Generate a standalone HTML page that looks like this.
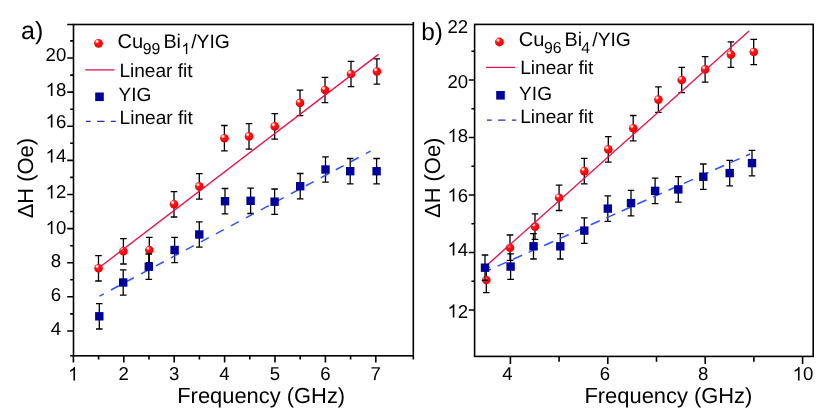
<!DOCTYPE html>
<html><head><meta charset="utf-8"><title>Linewidth vs frequency</title>
<style>
html,body{margin:0;padding:0;background:#fff;}
body{width:830px;height:420px;overflow:hidden;font-family:"Liberation Sans",sans-serif;}
svg{display:block;text-rendering:geometricPrecision;will-change:transform;}
</style></head><body>
<svg width="830" height="420" viewBox="0 0 830 420" font-family="Liberation Sans, sans-serif" fill="#000">
<defs><radialGradient id="ball" cx="0.36" cy="0.32" r="0.62" fx="0.33" fy="0.28"><stop offset="0" stop-color="#ffffff"/><stop offset="0.16" stop-color="#ffd0d0"/><stop offset="0.38" stop-color="#ff1a1a"/><stop offset="1" stop-color="#f00000"/></radialGradient></defs>
<rect width="830" height="420" fill="#fff"/>
<path d="M98.5 255.6V281.0M95.2 255.6h6.6M95.2 281.0h6.6" stroke="#000" stroke-width="1.3" fill="none"/>
<path d="M123.4 238.6V264.0M120.1 238.6h6.6M120.1 264.0h6.6" stroke="#000" stroke-width="1.3" fill="none"/>
<path d="M149.3 237.3V262.7M146.0 237.3h6.6M146.0 262.7h6.6" stroke="#000" stroke-width="1.3" fill="none"/>
<path d="M174.0 191.6V217.0M170.7 191.6h6.6M170.7 217.0h6.6" stroke="#000" stroke-width="1.3" fill="none"/>
<path d="M199.3 173.7V199.1M196.0 173.7h6.6M196.0 199.1h6.6" stroke="#000" stroke-width="1.3" fill="none"/>
<path d="M224.4 125.5V150.9M221.1 125.5h6.6M221.1 150.9h6.6" stroke="#000" stroke-width="1.3" fill="none"/>
<path d="M249.0 123.7V149.1M245.7 123.7h6.6M245.7 149.1h6.6" stroke="#000" stroke-width="1.3" fill="none"/>
<path d="M274.7 113.7V139.1M271.4 113.7h6.6M271.4 139.1h6.6" stroke="#000" stroke-width="1.3" fill="none"/>
<path d="M300.0 90.2V115.6M296.7 90.2h6.6M296.7 115.6h6.6" stroke="#000" stroke-width="1.3" fill="none"/>
<path d="M325.0 77.3V102.7M321.7 77.3h6.6M321.7 102.7h6.6" stroke="#000" stroke-width="1.3" fill="none"/>
<path d="M351.0 61.3V86.7M347.7 61.3h6.6M347.7 86.7h6.6" stroke="#000" stroke-width="1.3" fill="none"/>
<path d="M376.9 58.8V84.2M373.6 58.8h6.6M373.6 84.2h6.6" stroke="#000" stroke-width="1.3" fill="none"/>
<circle cx="98.5" cy="268.3" r="4.3" fill="url(#ball)"/>
<circle cx="123.4" cy="251.3" r="4.3" fill="url(#ball)"/>
<circle cx="149.3" cy="250.0" r="4.3" fill="url(#ball)"/>
<circle cx="174.0" cy="204.3" r="4.3" fill="url(#ball)"/>
<circle cx="199.3" cy="186.4" r="4.3" fill="url(#ball)"/>
<circle cx="224.4" cy="138.2" r="4.3" fill="url(#ball)"/>
<circle cx="249.0" cy="136.4" r="4.3" fill="url(#ball)"/>
<circle cx="274.7" cy="126.4" r="4.3" fill="url(#ball)"/>
<circle cx="300.0" cy="102.9" r="4.3" fill="url(#ball)"/>
<circle cx="325.0" cy="90.0" r="4.3" fill="url(#ball)"/>
<circle cx="351.0" cy="74.0" r="4.3" fill="url(#ball)"/>
<circle cx="376.9" cy="71.5" r="4.3" fill="url(#ball)"/>
<path d="M98.3 268.3L378.5 54.4" stroke="#e3174d" stroke-width="1.4" fill="none"/>
<path d="M99.3 303.6V329.0M96.0 303.6h6.6M96.0 329.0h6.6" stroke="#000" stroke-width="1.3" fill="none"/>
<path d="M123.2 269.8V295.2M119.9 269.8h6.6M119.9 295.2h6.6" stroke="#000" stroke-width="1.3" fill="none"/>
<path d="M148.8 254.0V279.4M145.5 254.0h6.6M145.5 279.4h6.6" stroke="#000" stroke-width="1.3" fill="none"/>
<path d="M174.6 237.3V262.7M171.3 237.3h6.6M171.3 262.7h6.6" stroke="#000" stroke-width="1.3" fill="none"/>
<path d="M199.3 221.8V247.2M196.0 221.8h6.6M196.0 247.2h6.6" stroke="#000" stroke-width="1.3" fill="none"/>
<path d="M225.0 188.5V213.9M221.7 188.5h6.6M221.7 213.9h6.6" stroke="#000" stroke-width="1.3" fill="none"/>
<path d="M250.6 188.1V213.5M247.3 188.1h6.6M247.3 213.5h6.6" stroke="#000" stroke-width="1.3" fill="none"/>
<path d="M274.6 189.0V214.4M271.3 189.0h6.6M271.3 214.4h6.6" stroke="#000" stroke-width="1.3" fill="none"/>
<path d="M300.2 173.5V198.9M296.9 173.5h6.6M296.9 198.9h6.6" stroke="#000" stroke-width="1.3" fill="none"/>
<path d="M325.5 156.8V182.2M322.2 156.8h6.6M322.2 182.2h6.6" stroke="#000" stroke-width="1.3" fill="none"/>
<path d="M350.2 158.5V183.9M346.9 158.5h6.6M346.9 183.9h6.6" stroke="#000" stroke-width="1.3" fill="none"/>
<path d="M376.6 158.5V183.9M373.3 158.5h6.6M373.3 183.9h6.6" stroke="#000" stroke-width="1.3" fill="none"/>
<path d="M99.5 296.1L370.5 151.2" stroke="#2f52ff" stroke-width="1.5" stroke-dasharray="8.9 8.1" stroke-dashoffset="4.0" fill="none"/>
<rect x="95.1" y="312.1" width="8.4" height="8.4" fill="#00009b"/>
<rect x="119.0" y="278.3" width="8.4" height="8.4" fill="#00009b"/>
<rect x="144.6" y="262.5" width="8.4" height="8.4" fill="#00009b"/>
<rect x="170.4" y="245.8" width="8.4" height="8.4" fill="#00009b"/>
<rect x="195.1" y="230.3" width="8.4" height="8.4" fill="#00009b"/>
<rect x="220.8" y="197.0" width="8.4" height="8.4" fill="#00009b"/>
<rect x="246.4" y="196.6" width="8.4" height="8.4" fill="#00009b"/>
<rect x="270.4" y="197.5" width="8.4" height="8.4" fill="#00009b"/>
<rect x="296.0" y="182.0" width="8.4" height="8.4" fill="#00009b"/>
<rect x="321.3" y="165.3" width="8.4" height="8.4" fill="#00009b"/>
<rect x="346.0" y="167.0" width="8.4" height="8.4" fill="#00009b"/>
<rect x="372.4" y="167.0" width="8.4" height="8.4" fill="#00009b"/>
<rect x="73.5" y="24.5" width="339.8" height="331.3" fill="none" stroke="#000" stroke-width="1.6"/>
<path d="M73.4 355.8v6.8M123.8 355.8v6.8M174.2 355.8v6.8M224.6 355.8v6.8M275.0 355.8v6.8M325.4 355.8v6.8M375.8 355.8v6.8M98.6 355.8v3.8M149.0 355.8v3.8M199.4 355.8v3.8M249.8 355.8v3.8M300.2 355.8v3.8M350.6 355.8v3.8M73.5 331.0h-6.3M73.5 296.8h-6.3M73.5 262.7h-6.3M73.5 228.6h-6.3M73.5 194.5h-6.3M73.5 160.4h-6.3M73.5 126.2h-6.3M73.5 92.1h-6.3M73.5 58.0h-6.3M73.5 313.9h-3.3M73.5 279.8h-3.3M73.5 245.7h-3.3M73.5 211.5h-3.3M73.5 177.4h-3.3M73.5 143.3h-3.3M73.5 109.2h-3.3M73.5 75.1h-3.3M73.5 40.9h-3.3" stroke="#000" stroke-width="1.6" fill="none"/>
<path d="M486.3 267.3V292.7M483.0 267.3h6.6M483.0 292.7h6.6" stroke="#000" stroke-width="1.3" fill="none"/>
<path d="M510.0 235.0V260.4M506.7 235.0h6.6M506.7 260.4h6.6" stroke="#000" stroke-width="1.3" fill="none"/>
<path d="M535.0 213.9V239.3M531.7 213.9h6.6M531.7 239.3h6.6" stroke="#000" stroke-width="1.3" fill="none"/>
<path d="M559.1 185.1V210.5M555.8 185.1h6.6M555.8 210.5h6.6" stroke="#000" stroke-width="1.3" fill="none"/>
<path d="M584.3 158.4V183.8M581.0 158.4h6.6M581.0 183.8h6.6" stroke="#000" stroke-width="1.3" fill="none"/>
<path d="M608.3 136.7V162.1M605.0 136.7h6.6M605.0 162.1h6.6" stroke="#000" stroke-width="1.3" fill="none"/>
<path d="M633.2 115.5V140.9M629.9 115.5h6.6M629.9 140.9h6.6" stroke="#000" stroke-width="1.3" fill="none"/>
<path d="M658.4 86.9V112.3M655.1 86.9h6.6M655.1 112.3h6.6" stroke="#000" stroke-width="1.3" fill="none"/>
<path d="M681.7 67.3V92.7M678.4 67.3h6.6M678.4 92.7h6.6" stroke="#000" stroke-width="1.3" fill="none"/>
<path d="M705.1 56.7V82.1M701.8 56.7h6.6M701.8 82.1h6.6" stroke="#000" stroke-width="1.3" fill="none"/>
<path d="M730.9 41.9V67.3M727.6 41.9h6.6M727.6 67.3h6.6" stroke="#000" stroke-width="1.3" fill="none"/>
<path d="M753.7 39.3V64.7M750.4 39.3h6.6M750.4 64.7h6.6" stroke="#000" stroke-width="1.3" fill="none"/>
<circle cx="486.3" cy="280.0" r="4.3" fill="url(#ball)"/>
<circle cx="510.0" cy="247.7" r="4.3" fill="url(#ball)"/>
<circle cx="535.0" cy="226.6" r="4.3" fill="url(#ball)"/>
<circle cx="559.1" cy="197.8" r="4.3" fill="url(#ball)"/>
<circle cx="584.3" cy="171.1" r="4.3" fill="url(#ball)"/>
<circle cx="608.3" cy="149.4" r="4.3" fill="url(#ball)"/>
<circle cx="633.2" cy="128.2" r="4.3" fill="url(#ball)"/>
<circle cx="658.4" cy="99.6" r="4.3" fill="url(#ball)"/>
<circle cx="681.7" cy="80.0" r="4.3" fill="url(#ball)"/>
<circle cx="705.1" cy="69.4" r="4.3" fill="url(#ball)"/>
<circle cx="730.9" cy="54.6" r="4.3" fill="url(#ball)"/>
<circle cx="753.7" cy="52.0" r="4.3" fill="url(#ball)"/>
<path d="M486.0 266.0L749.1 30.9" stroke="#e3174d" stroke-width="1.4" fill="none"/>
<path d="M485.0 255.0V280.4M481.7 255.0h6.6M481.7 280.4h6.6" stroke="#000" stroke-width="1.3" fill="none"/>
<path d="M510.6 253.9V279.3M507.3 253.9h6.6M507.3 279.3h6.6" stroke="#000" stroke-width="1.3" fill="none"/>
<path d="M533.5 233.6V259.0M530.2 233.6h6.6M530.2 259.0h6.6" stroke="#000" stroke-width="1.3" fill="none"/>
<path d="M560.3 233.6V259.0M557.0 233.6h6.6M557.0 259.0h6.6" stroke="#000" stroke-width="1.3" fill="none"/>
<path d="M584.3 217.9V243.3M581.0 217.9h6.6M581.0 243.3h6.6" stroke="#000" stroke-width="1.3" fill="none"/>
<path d="M607.8 195.9V221.3M604.5 195.9h6.6M604.5 221.3h6.6" stroke="#000" stroke-width="1.3" fill="none"/>
<path d="M631.0 190.4V215.8M627.7 190.4h6.6M627.7 215.8h6.6" stroke="#000" stroke-width="1.3" fill="none"/>
<path d="M655.1 178.2V203.6M651.8 178.2h6.6M651.8 203.6h6.6" stroke="#000" stroke-width="1.3" fill="none"/>
<path d="M678.3 176.7V202.1M675.0 176.7h6.6M675.0 202.1h6.6" stroke="#000" stroke-width="1.3" fill="none"/>
<path d="M703.3 164.0V189.4M700.0 164.0h6.6M700.0 189.4h6.6" stroke="#000" stroke-width="1.3" fill="none"/>
<path d="M729.7 160.4V185.8M726.4 160.4h6.6M726.4 185.8h6.6" stroke="#000" stroke-width="1.3" fill="none"/>
<path d="M752.0 150.4V175.8M748.7 150.4h6.6M748.7 175.8h6.6" stroke="#000" stroke-width="1.3" fill="none"/>
<path d="M486.0 271.3L750.0 154.0" stroke="#2f52ff" stroke-width="1.5" stroke-dasharray="9.9 7.1" stroke-dashoffset="4.4" fill="none"/>
<rect x="480.8" y="263.5" width="8.4" height="8.4" fill="#00009b"/>
<rect x="506.4" y="262.4" width="8.4" height="8.4" fill="#00009b"/>
<rect x="529.3" y="242.1" width="8.4" height="8.4" fill="#00009b"/>
<rect x="556.1" y="242.1" width="8.4" height="8.4" fill="#00009b"/>
<rect x="580.1" y="226.4" width="8.4" height="8.4" fill="#00009b"/>
<rect x="603.6" y="204.4" width="8.4" height="8.4" fill="#00009b"/>
<rect x="626.8" y="198.9" width="8.4" height="8.4" fill="#00009b"/>
<rect x="650.9" y="186.7" width="8.4" height="8.4" fill="#00009b"/>
<rect x="674.1" y="185.2" width="8.4" height="8.4" fill="#00009b"/>
<rect x="699.1" y="172.5" width="8.4" height="8.4" fill="#00009b"/>
<rect x="725.5" y="168.9" width="8.4" height="8.4" fill="#00009b"/>
<rect x="747.8" y="158.9" width="8.4" height="8.4" fill="#00009b"/>
<rect x="474.6" y="24.4" width="338.6" height="332.0" fill="none" stroke="#000" stroke-width="1.6"/>
<path d="M510.4 356.4v7.6M607.8 356.4v7.6M705.2 356.4v7.6M802.6 356.4v7.6M559.1 356.4v5.4M656.5 356.4v5.4M753.9 356.4v5.4M474.6 310.0h-5.8M474.6 252.5h-5.8M474.6 195.0h-5.8M474.6 137.5h-5.8M474.6 80.0h-5.8M474.6 281.2h-3.2M474.6 223.8h-3.2M474.6 166.2h-3.2M474.6 108.8h-3.2M474.6 51.2h-3.2" stroke="#000" stroke-width="1.6" fill="none"/>
<path d="M73.5 24.5h-6.3M73.5 355.8h-3.3M413.3 355.8v3.8M413.3 24.5v-2.4" stroke="#000" stroke-width="1.6"/>
<text x="45.55" y="61.0" font-size="18.6">2</text>
<text x="55.90" y="61.0" font-size="18.6">0</text>
<path transform="translate(45.55 96.00) scale(18.6 -18.6)" d="M.3726 0L.2847 0L.2847 .56Q.253 .5298 .2014 .4995Q.1499 .4692 .1089 .4541L.1089 .5391Q.1826 .5737 .2378 .623Q.293 .6724 .3159 .7188L.3726 .7188Z"/>
<text x="55.90" y="96.0" font-size="18.6">8</text>
<path transform="translate(45.55 127.60) scale(18.6 -18.6)" d="M.3726 0L.2847 0L.2847 .56Q.253 .5298 .2014 .4995Q.1499 .4692 .1089 .4541L.1089 .5391Q.1826 .5737 .2378 .623Q.293 .6724 .3159 .7188L.3726 .7188Z"/>
<text x="55.90" y="127.6" font-size="18.6">6</text>
<path transform="translate(45.55 162.40) scale(18.6 -18.6)" d="M.3726 0L.2847 0L.2847 .56Q.253 .5298 .2014 .4995Q.1499 .4692 .1089 .4541L.1089 .5391Q.1826 .5737 .2378 .623Q.293 .6724 .3159 .7188L.3726 .7188Z"/>
<text x="55.90" y="162.4" font-size="18.6">4</text>
<path transform="translate(45.55 198.40) scale(18.6 -18.6)" d="M.3726 0L.2847 0L.2847 .56Q.253 .5298 .2014 .4995Q.1499 .4692 .1089 .4541L.1089 .5391Q.1826 .5737 .2378 .623Q.293 .6724 .3159 .7188L.3726 .7188Z"/>
<text x="55.90" y="198.4" font-size="18.6">2</text>
<path transform="translate(45.55 234.00) scale(18.6 -18.6)" d="M.3726 0L.2847 0L.2847 .56Q.253 .5298 .2014 .4995Q.1499 .4692 .1089 .4541L.1089 .5391Q.1826 .5737 .2378 .623Q.293 .6724 .3159 .7188L.3726 .7188Z"/>
<text x="55.90" y="234.0" font-size="18.6">0</text>
<text x="50.73" y="266.5" font-size="18.6">8</text>
<text x="50.73" y="301.0" font-size="18.6">6</text>
<text x="50.73" y="335.0" font-size="18.6">4</text>
<path transform="translate(68.13 380.40) scale(18.6 -18.6)" d="M.3726 0L.2847 0L.2847 .56Q.253 .5298 .2014 .4995Q.1499 .4692 .1089 .4541L.1089 .5391Q.1826 .5737 .2378 .623Q.293 .6724 .3159 .7188L.3726 .7188Z"/>
<text x="118.53" y="380.4" font-size="18.6">2</text>
<text x="168.93" y="380.4" font-size="18.6">3</text>
<text x="219.33" y="380.4" font-size="18.6">4</text>
<text x="269.73" y="380.4" font-size="18.6">5</text>
<text x="320.13" y="380.4" font-size="18.6">6</text>
<text x="370.53" y="380.4" font-size="18.6">7</text>
<text x="447.45" y="33.0" font-size="18.6">2</text>
<text x="457.80" y="33.0" font-size="18.6">2</text>
<text x="447.45" y="87.6" font-size="18.6">2</text>
<text x="457.80" y="87.6" font-size="18.6">0</text>
<path transform="translate(447.45 142.00) scale(18.6 -18.6)" d="M.3726 0L.2847 0L.2847 .56Q.253 .5298 .2014 .4995Q.1499 .4692 .1089 .4541L.1089 .5391Q.1826 .5737 .2378 .623Q.293 .6724 .3159 .7188L.3726 .7188Z"/>
<text x="457.80" y="142.0" font-size="18.6">8</text>
<path transform="translate(447.45 201.60) scale(18.6 -18.6)" d="M.3726 0L.2847 0L.2847 .56Q.253 .5298 .2014 .4995Q.1499 .4692 .1089 .4541L.1089 .5391Q.1826 .5737 .2378 .623Q.293 .6724 .3159 .7188L.3726 .7188Z"/>
<text x="457.80" y="201.6" font-size="18.6">6</text>
<path transform="translate(447.45 255.60) scale(18.6 -18.6)" d="M.3726 0L.2847 0L.2847 .56Q.253 .5298 .2014 .4995Q.1499 .4692 .1089 .4541L.1089 .5391Q.1826 .5737 .2378 .623Q.293 .6724 .3159 .7188L.3726 .7188Z"/>
<text x="457.80" y="255.6" font-size="18.6">4</text>
<path transform="translate(447.45 317.60) scale(18.6 -18.6)" d="M.3726 0L.2847 0L.2847 .56Q.253 .5298 .2014 .4995Q.1499 .4692 .1089 .4541L.1089 .5391Q.1826 .5737 .2378 .623Q.293 .6724 .3159 .7188L.3726 .7188Z"/>
<text x="457.80" y="317.6" font-size="18.6">2</text>
<text x="502.23" y="380.4" font-size="18.6">4</text>
<text x="599.63" y="380.4" font-size="18.6">6</text>
<text x="698.03" y="380.4" font-size="18.6">8</text>
<path transform="translate(792.65 380.40) scale(18.6 -18.6)" d="M.3726 0L.2847 0L.2847 .56Q.253 .5298 .2014 .4995Q.1499 .4692 .1089 .4541L.1089 .5391Q.1826 .5737 .2378 .623Q.293 .6724 .3159 .7188L.3726 .7188Z"/>
<text x="803.00" y="380.4" font-size="18.6">0</text>
<text x="261.2" y="403.3" font-size="21.9" text-anchor="middle">Frequency (GHz)</text>
<text x="668.4" y="403.3" font-size="21.9" text-anchor="middle">Frequency (GHz)</text>
<text transform="translate(33.3 178.2) rotate(-90)" font-size="21.9" text-anchor="middle">ΔH (Oe)</text>
<text transform="translate(439.5 177.8) rotate(-90)" font-size="21.9" text-anchor="middle">ΔH (Oe)</text>
<text x="21.0" y="38.8" font-size="25">a)</text>
<text x="421.2" y="39.7" font-size="24.4">b)</text>
<circle cx="98.5" cy="43.3" r="4.4" fill="url(#ball)"/>
<text x="117.6" y="47.5" font-size="20.1">Cu</text>
<text x="142.8" y="54.1" font-size="15.8">99</text>
<text x="163.4" y="47.5" font-size="19.8">Bi</text>
<path transform="translate(181.40 54.10) scale(15.8 -15.8)" d="M.3726 0L.2847 0L.2847 .56Q.253 .5298 .2014 .4995Q.1499 .4692 .1089 .4541L.1089 .5391Q.1826 .5737 .2378 .623Q.293 .6724 .3159 .7188L.3726 .7188Z"/>
<text x="191.2" y="47.5" font-size="19.3">/YIG</text>
<path d="M85.2 69.9H114.5" stroke="#e3174d" stroke-width="1.3"/>
<text x="119.4" y="77.0" font-size="19.1">Linear fit</text>
<rect x="95.2" y="92.5" width="8.6" height="8.6" fill="#00009b"/>
<text x="118.5" y="101.2" font-size="19.1">YIG</text>
<path d="M85.9 121.4h4.8M97.1 121.4h7.4M110.9 121.4H115.8" stroke="#2828bc" stroke-width="1.3"/>
<text x="119.6" y="124.0" font-size="19.1">Linear fit</text>
<circle cx="499.4" cy="42.0" r="4.4" fill="url(#ball)"/>
<text x="518.7" y="46.1" font-size="20.1">Cu</text>
<text x="543.9" y="52.7" font-size="15.8">96</text>
<text x="564.5" y="46.1" font-size="19.8">Bi</text>
<text x="581.3" y="52.7" font-size="15.8">4</text>
<text x="592.3" y="46.1" font-size="19.3">/YIG</text>
<path d="M486 67.4H515.1" stroke="#e3174d" stroke-width="1.3"/>
<text x="520.2" y="74.2" font-size="19.1">Linear fit</text>
<rect x="496.2" y="91.0" width="8.6" height="8.6" fill="#00009b"/>
<text x="519.1" y="100.0" font-size="19.1">YIG</text>
<path d="M486.9 120.2h4.8M498.1 120.2h7.4M511.9 120.2H516.3" stroke="#2828bc" stroke-width="1.3"/>
<text x="520.2" y="122.8" font-size="19.1">Linear fit</text>
</svg>
</body></html>
